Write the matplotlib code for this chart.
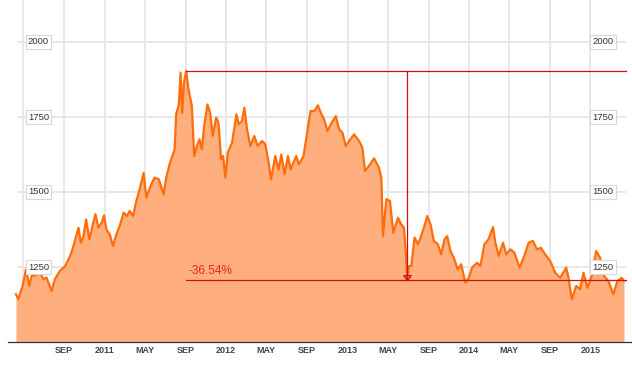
import matplotlib
matplotlib.use('Agg')
import matplotlib.pyplot as plt
import matplotlib.dates as mdates
import pandas as pd
from matplotlib.transforms import blended_transform_factory

# ---------------- data ----------------
dates = [
    '2010-04-09', '2010-04-16', '2010-04-29', '2010-05-09', '2010-05-19', '2010-05-26',
    '2010-06-10', '2010-06-20', '2010-06-30', '2010-07-10', '2010-07-25', '2010-08-04',
    '2010-08-19', '2010-09-04', '2010-09-19', '2010-09-29', '2010-10-14', '2010-10-21',
    '2010-10-29', '2010-11-06', '2010-11-16', '2010-11-26', '2010-12-04', '2010-12-13',
    '2010-12-23', '2010-12-30', '2011-01-06', '2011-01-16', '2011-01-26', '2011-02-05',
    '2011-02-15', '2011-02-27', '2011-03-09', '2011-03-17', '2011-03-27', '2011-04-06',
    '2011-04-16', '2011-04-28', '2011-05-06', '2011-05-21', '2011-05-31', '2011-06-13',
    '2011-06-27', '2011-07-05', '2011-07-15', '2011-07-25', '2011-07-30', '2011-08-04',
    '2011-08-12', '2011-08-17', '2011-08-22', '2011-08-27', '2011-09-03', '2011-09-10',
    '2011-09-20', '2011-09-27', '2011-10-05', '2011-10-13', '2011-10-20', '2011-10-27',
    '2011-11-06', '2011-11-14', '2011-11-22', '2011-12-02', '2011-12-09', '2011-12-17',
    '2011-12-23', '2011-12-30', '2012-01-06', '2012-01-19', '2012-02-01', '2012-02-08',
    '2012-02-18', '2012-02-25', '2012-03-04', '2012-03-14', '2012-03-26', '2012-04-05',
    '2012-04-18', '2012-04-28', '2012-05-08', '2012-05-15', '2012-05-28', '2012-06-07',
    '2012-06-15', '2012-06-25', '2012-07-05', '2012-07-13', '2012-07-30', '2012-08-07',
    '2012-08-21', '2012-08-28', '2012-09-11', '2012-09-23', '2012-10-03', '2012-10-14',
    '2012-10-22', '2012-11-01', '2012-11-11', '2012-11-26', '2012-12-06', '2012-12-16',
    '2012-12-26', '2013-01-05', '2013-01-20', '2013-02-04', '2013-02-14', '2013-02-22',
    '2013-03-06', '2013-03-21', '2013-04-05', '2013-04-12', '2013-04-17', '2013-04-27',
    '2013-05-08', '2013-05-18', '2013-06-01', '2013-06-11', '2013-06-19', '2013-06-25',
    '2013-06-29', '2013-07-04', '2013-07-11', '2013-07-21', '2013-07-31', '2013-08-08',
    '2013-08-18', '2013-08-28', '2013-09-07', '2013-09-17', '2013-09-29', '2013-10-09',
    '2013-10-19', '2013-10-27', '2013-11-06', '2013-11-16', '2013-11-28', '2013-12-08',
    '2013-12-14', '2013-12-21', '2013-12-31', '2014-01-10', '2014-01-25', '2014-02-04',
    '2014-02-16', '2014-02-28', '2014-03-14', '2014-03-21', '2014-03-31', '2014-04-13',
    '2014-04-23', '2014-05-05', '2014-05-17', '2014-06-02', '2014-06-16', '2014-06-29',
    '2014-07-12', '2014-07-24', '2014-08-05', '2014-08-18', '2014-09-02', '2014-09-17',
    '2014-10-02', '2014-10-20', '2014-10-27', '2014-11-06', '2014-11-19', '2014-12-01',
    '2014-12-11', '2014-12-23', '2015-01-05', '2015-01-18', '2015-01-30', '2015-02-11',
    '2015-02-24', '2015-03-11', '2015-03-23', '2015-04-05', '2015-04-12',
]
prices = [
    1159, 1143, 1187, 1242, 1187, 1220,
    1223, 1237, 1209, 1215, 1170, 1209,
    1237, 1253, 1287, 1320, 1381, 1331,
    1353, 1409, 1342, 1392, 1426, 1381,
    1398, 1422, 1375, 1359, 1320, 1359,
    1387, 1431, 1420, 1437, 1420, 1470,
    1509, 1564, 1481, 1526, 1548, 1542,
    1492, 1548, 1592, 1625, 1640, 1760,
    1792, 1898, 1764, 1864, 1903.5, 1842,
    1787, 1620, 1653, 1676, 1642, 1720,
    1792, 1764, 1687, 1748, 1731, 1609,
    1620, 1548, 1631, 1664, 1759, 1726,
    1737, 1781, 1709, 1653, 1687, 1653,
    1670, 1659, 1598, 1542, 1620, 1575,
    1625, 1559, 1620, 1575, 1620, 1592,
    1620, 1670, 1770, 1770, 1789, 1759,
    1742, 1703, 1726, 1753, 1709, 1698,
    1653, 1670, 1692, 1670, 1648, 1570,
    1587, 1612, 1581, 1548, 1353, 1476,
    1470, 1364, 1414, 1392, 1381, 1292,
    1208, 1253, 1253, 1348, 1326, 1348,
    1381, 1420, 1392, 1337, 1326, 1292,
    1342, 1353, 1303, 1281, 1242, 1259,
    1231, 1198, 1214, 1248, 1264, 1253,
    1326, 1342, 1383, 1331, 1287, 1331,
    1292, 1309, 1298, 1248, 1287, 1331,
    1337, 1309, 1314, 1292, 1270, 1231,
    1214, 1248, 1214, 1142, 1187, 1176,
    1231, 1181, 1220, 1303, 1281, 1220,
    1203, 1159, 1203, 1214, 1203,
]

y_ticks = [1250, 1500, 1750, 2000]
x_tick_dates = ['2010-09-01', '2011-01-01', '2011-05-01', '2011-09-01', '2012-01-01',
                '2012-05-01', '2012-09-01', '2013-01-01', '2013-05-01', '2013-09-01',
                '2014-01-01', '2014-05-01', '2014-09-01', '2015-01-01']
x_tick_labels = ['SEP', '2011', 'MAY', 'SEP', '2012', 'MAY', 'SEP', '2013', 'MAY', 'SEP',
                 '2014', 'MAY', 'SEP', '2015']
grid_dates = ['2010-05-01'] + x_tick_dates

peak_date = '2011-09-03'
low_date = '2013-06-29'
annot_end_date = '2015-04-18'

# ---------------- figure ----------------
plt.rcParams['font.family'] = ['Liberation Sans', 'DejaVu Sans']

fig = plt.figure(figsize=(6.32, 3.66), dpi=100)
fig.patch.set_facecolor('white')
ax = fig.add_axes([8 / 632, 24 / 366, 624 / 632, 342 / 366])

x = mdates.date2num(pd.to_datetime(dates))
ax.set_xlim(mdates.date2num(pd.Timestamp('2010-03-16')), mdates.date2num(pd.Timestamp('2015-05-06')))
ax.set_ylim(1000, 2140)

grid_c = '#e8e8e8'
for d in grid_dates:
    ax.axvline(mdates.date2num(pd.Timestamp(d)), color=grid_c, lw=1.4, zorder=0)
ytrans = blended_transform_factory(ax.transAxes, ax.transData)
ax.hlines(y_ticks, 0.0144, 0.9904, transform=ytrans, color=grid_c, lw=1.4, zorder=0)

ax.fill_between(x, prices, 1000, color='#ffae7e', lw=0, zorder=1)
ax.plot(x, prices, color='#ff6d0a', lw=1.6, zorder=2, solid_joinstyle='round')

# drawdown annotation
peak_val = prices[dates.index(peak_date)]
low_val = prices[dates.index(low_date)]
px = mdates.date2num(pd.Timestamp(peak_date))
lx = mdates.date2num(pd.Timestamp(low_date))
ex = mdates.date2num(pd.Timestamp(annot_end_date))
red = '#cc1111'
ax.plot([px, ex], [peak_val, peak_val], color=red, lw=0.9, zorder=3)
ax.plot([px, ex], [low_val, low_val], color=red, lw=0.9, zorder=3)
ax.plot([lx, lx], [peak_val, low_val], color=red, lw=0.9, zorder=3)
tri = [(0, 0), (-1, 1.3), (1, 1.3), (0, 0)]
ax.plot([lx], [low_val], marker=tri, markersize=7, markerfacecolor='none',
        markeredgecolor=red, markeredgewidth=0.9, zorder=4)
pct = (low_val / peak_val - 1) * 100
ax.annotate(f'{pct:.2f}%', xy=(px, low_val), xytext=(2, 4), textcoords='offset points',
            ha='left', va='baseline', color='#e8231f', fontsize=8.5, zorder=5)

# y labels in boxes
for v in y_ticks:
    for xf in (0.0489, 0.9535):
        ax.text(xf, v, str(v), transform=ytrans, ha='center', va='center', fontsize=6.8,
                color='#333333', zorder=6,
                bbox=dict(boxstyle='square,pad=0.25', fc='white', ec='#d8d8d8', lw=0.8))

# axes styling
for s in ('left', 'right', 'top'):
    ax.spines[s].set_visible(False)
ax.spines['bottom'].set_color('#333333')
ax.spines['bottom'].set_linewidth(0.9)
ax.spines['bottom'].set_zorder(7)
ax.set_yticks([])
ax.set_xticks(mdates.date2num(pd.to_datetime(x_tick_dates)))
ax.set_xticklabels(x_tick_labels, fontsize=6.5, fontweight='bold', color='#444444')
ax.tick_params(axis='x', length=0, pad=3)
ax.set_facecolor('white')

fig.savefig('out.png', dpi=100, facecolor='white')
